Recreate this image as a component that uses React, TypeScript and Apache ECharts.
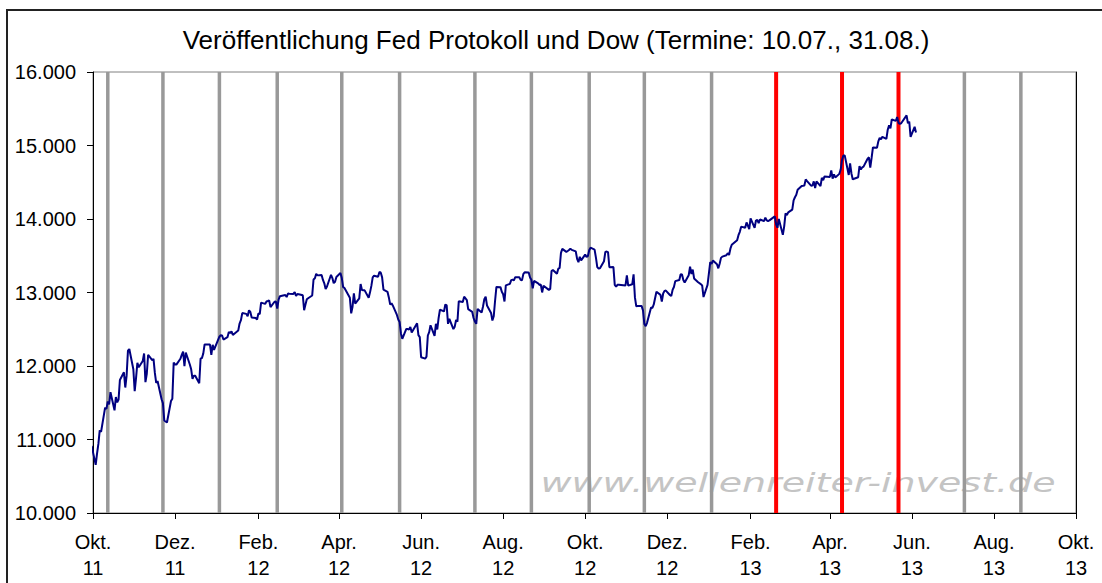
import React, { useEffect, useRef } from "react";
import * as echarts from "echarts";

const TITLE = "Veröffentlichung Fed Protokoll und Dow (Termine: 10.07., 31.08.)";
const WATERMARK = "www.wellenreiter-invest.de";

const xMin = "2011-10-01";
const xMax = "2013-10-01";
const tickDates = [
  "2011-10-01", "2011-12-01", "2012-02-01", "2012-04-01", "2012-06-01", "2012-08-01", "2012-10-01",
  "2012-12-01", "2013-02-01", "2013-04-01", "2013-06-01", "2013-08-01", "2013-10-01",
];
const tickLabels = [
  "Okt.\n11", "Dez.\n11", "Feb.\n12", "Apr.\n12", "Jun.\n12", "Aug.\n12", "Okt.\n12",
  "Dez.\n12", "Feb.\n13", "Apr.\n13", "Jun.\n13", "Aug.\n13", "Okt.\n13",
];
const yMin = 10000;
const yMax = 16000;
const yStep = 1000;

// Fed minutes release dates
const grayDates = [
  "2011-10-12", "2011-11-22", "2012-01-03", "2012-02-15", "2012-04-03", "2012-05-16", "2012-07-11",
  "2012-08-22", "2012-10-04", "2012-11-14", "2013-01-03", "2013-07-10", "2013-08-21",
];
const redDates = ["2013-02-20", "2013-04-10", "2013-05-22"];

// Dow closes, [day, close] per month
const dow2011_09 = [[30, 10913]];
const dow2011_10 = [
  [3, 10655], [4, 10809], [5, 10940], [6, 11123], [7, 11103], [10, 11433], [11, 11416], [12, 11519],
  [13, 11478], [14, 11644], [17, 11397], [18, 11577], [19, 11505], [20, 11542], [21, 11809], [24, 11914],
  [25, 11707], [26, 11869], [27, 12209], [28, 12231], [31, 11955],
];
const dow2011_11 = [
  [1, 11658], [2, 11836], [3, 12044], [4, 11983], [7, 12069], [8, 12170], [9, 11781], [10, 11894],
  [11, 12153], [14, 12079], [15, 12096], [16, 11906], [17, 11770], [18, 11796], [21, 11548], [22, 11494],
  [23, 11258], [25, 11231], [28, 11524], [29, 11556], [30, 12046],
];
const dow2011_12 = [
  [1, 12021], [2, 12019], [5, 12098], [6, 12151], [7, 12197], [8, 11997], [9, 12184], [12, 12021],
  [13, 11955], [14, 11824], [15, 11869], [16, 11866], [19, 11766], [20, 12103], [21, 12107], [22, 12169],
  [23, 12294], [27, 12291], [28, 12151], [29, 12288], [30, 12218],
];
const dow2012_01 = [
  [3, 12398], [4, 12418], [5, 12415], [6, 12360], [9, 12392], [10, 12462], [11, 12449], [12, 12471],
  [13, 12422], [17, 12482], [18, 12578], [19, 12623], [20, 12720], [23, 12709], [24, 12675], [25, 12758],
  [26, 12735], [27, 12660], [30, 12653], [31, 12633],
];
const dow2012_02 = [
  [1, 12716], [2, 12706], [3, 12862], [6, 12845], [7, 12878], [8, 12884], [9, 12891], [10, 12801],
  [13, 12874], [14, 12878], [15, 12781], [16, 12904], [17, 12950], [21, 12966], [22, 12938], [23, 12985],
  [24, 12983], [27, 12981], [28, 13005], [29, 12952],
];
const dow2012_03 = [
  [1, 12980], [2, 12977], [5, 12963], [6, 12759], [7, 12837], [8, 12907], [9, 12922], [12, 12959],
  [13, 13177], [14, 13194], [15, 13253], [16, 13233], [19, 13239], [20, 13171], [21, 13125], [22, 13046],
  [23, 13081], [26, 13241], [27, 13197], [28, 13127], [29, 13146], [30, 13212],
];
const dow2012_04 = [
  [2, 13264], [3, 13199], [4, 13075], [5, 13060], [9, 12929], [10, 12716], [11, 12806], [12, 12987],
  [13, 12850], [16, 12921], [17, 13116], [18, 13033], [19, 13030], [20, 13029], [23, 12928], [24, 13002],
  [25, 13090], [26, 13205], [27, 13228], [30, 13214],
];
const dow2012_05 = [
  [1, 13280], [2, 13269], [3, 13206], [4, 13038], [7, 13009], [8, 12933], [9, 12836], [10, 12855],
  [11, 12821], [14, 12695], [15, 12632], [16, 12599], [17, 12443], [18, 12370], [21, 12504], [22, 12502],
  [23, 12496], [24, 12530], [25, 12455], [29, 12581], [30, 12420], [31, 12393],
];
const dow2012_06 = [
  [1, 12119], [4, 12101], [5, 12127], [6, 12415], [7, 12461], [8, 12554], [11, 12411], [12, 12574],
  [13, 12497], [14, 12652], [15, 12767], [18, 12742], [19, 12837], [20, 12824], [21, 12574], [22, 12641],
  [25, 12503], [26, 12535], [27, 12627], [28, 12602], [29, 12880],
];
const dow2012_07 = [
  [2, 12871], [3, 12943], [5, 12897], [6, 12773], [9, 12736], [10, 12653], [11, 12605], [12, 12574],
  [13, 12777], [16, 12727], [17, 12806], [18, 12908], [19, 12943], [20, 12823], [23, 12722], [24, 12618],
  [25, 12677], [26, 12888], [27, 13076], [30, 13073], [31, 13009],
];
const dow2012_08 = [
  [1, 12976], [2, 12878], [3, 13096], [6, 13118], [7, 13169], [8, 13175], [9, 13165], [10, 13208],
  [13, 13207], [14, 13172], [15, 13165], [16, 13250], [17, 13276], [20, 13271], [21, 13203], [22, 13173],
  [23, 13058], [24, 13158], [27, 13124], [28, 13103], [29, 13108], [30, 13001], [31, 13091],
];
const dow2012_09 = [
  [4, 13036], [5, 13048], [6, 13292], [7, 13307], [10, 13254], [11, 13324], [12, 13333], [13, 13540],
  [14, 13594], [17, 13553], [18, 13565], [19, 13578], [20, 13597], [21, 13580], [24, 13559], [25, 13458],
  [26, 13413], [27, 13485], [28, 13437],
];
const dow2012_10 = [
  [1, 13516], [2, 13483], [3, 13495], [4, 13575], [5, 13610], [8, 13584], [9, 13474], [10, 13345],
  [11, 13326], [12, 13329], [15, 13425], [16, 13552], [17, 13557], [18, 13548], [19, 13344], [22, 13346],
  [23, 13103], [24, 13078], [25, 13104], [26, 13107], [31, 13096],
];
const dow2012_11 = [
  [1, 13233], [2, 13093], [5, 13112], [6, 13246], [7, 12933], [8, 12811], [9, 12815], [12, 12815],
  [13, 12756], [14, 12571], [15, 12543], [16, 12588], [19, 12796], [20, 12789], [21, 12837], [23, 13010],
  [26, 12968], [27, 12878], [28, 12986], [29, 13022], [30, 13026],
];
const dow2012_12 = [
  [3, 12966], [4, 12951], [5, 13035], [6, 13075], [7, 13155], [10, 13170], [11, 13249], [12, 13245],
  [13, 13171], [14, 13135], [17, 13236], [18, 13351], [19, 13252], [20, 13312], [21, 13191], [24, 13139],
  [26, 13114], [27, 13096], [28, 12938], [31, 13104],
];
const dow2013_01 = [
  [2, 13412], [3, 13391], [4, 13435], [7, 13385], [8, 13329], [9, 13390], [10, 13471], [11, 13488],
  [14, 13507], [15, 13535], [16, 13511], [17, 13596], [18, 13650], [22, 13712], [23, 13779], [24, 13825],
  [25, 13896], [28, 13882], [29, 13954], [30, 13910], [31, 13861],
];
const dow2013_02 = [
  [1, 14010], [4, 13880], [5, 13979], [6, 13987], [7, 13944], [8, 13993], [11, 13971], [12, 14019],
  [13, 13982], [14, 13973], [15, 13982], [19, 14036], [20, 13928], [21, 13881], [22, 14001], [25, 13784],
  [26, 13900], [27, 14076], [28, 14054],
];
const dow2013_03 = [
  [1, 14090], [4, 14128], [5, 14254], [6, 14296], [7, 14329], [8, 14397], [11, 14448], [12, 14451],
  [13, 14455], [14, 14539], [15, 14515], [18, 14453], [19, 14456], [20, 14512], [21, 14421], [22, 14512],
  [25, 14448], [26, 14560], [27, 14527], [28, 14579],
];
const dow2013_04 = [
  [1, 14573], [2, 14662], [3, 14550], [4, 14607], [5, 14565], [8, 14614], [9, 14673], [10, 14802],
  [11, 14865], [12, 14865], [15, 14599], [16, 14757], [17, 14619], [18, 14538], [19, 14548], [22, 14568],
  [23, 14720], [24, 14676], [25, 14701], [26, 14712], [29, 14819], [30, 14840],
];
const dow2013_05 = [
  [1, 14700], [2, 14831], [3, 14974], [6, 14969], [7, 15056], [8, 15105], [9, 15083], [10, 15118],
  [13, 15091], [14, 15215], [15, 15275], [16, 15233], [17, 15354], [20, 15335], [21, 15388], [22, 15308],
  [23, 15295], [24, 15303], [28, 15409], [29, 15303], [30, 15325], [31, 15116],
];
const dow2013_06 = [[3, 15254], [4, 15177]];

const dowMonths: [number, number, number[][]][] = [
  [2011, 9, dow2011_09], [2011, 10, dow2011_10], [2011, 11, dow2011_11], [2011, 12, dow2011_12],
  [2012, 1, dow2012_01], [2012, 2, dow2012_02], [2012, 3, dow2012_03], [2012, 4, dow2012_04],
  [2012, 5, dow2012_05], [2012, 6, dow2012_06], [2012, 7, dow2012_07], [2012, 8, dow2012_08],
  [2012, 9, dow2012_09], [2012, 10, dow2012_10], [2012, 11, dow2012_11], [2012, 12, dow2012_12],
  [2013, 1, dow2013_01], [2013, 2, dow2013_02], [2013, 3, dow2013_03], [2013, 4, dow2013_04],
  [2013, 5, dow2013_05], [2013, 6, dow2013_06],
];

const ts = (s: string) => {
  const [y, m, d] = s.split("-").map(Number);
  return Date.UTC(y, m - 1, d);
};

const FONT = "'Liberation Sans', Arial, sans-serif";

export default function App() {
  const ref = useRef<HTMLDivElement>(null);
  useEffect(() => {
    if (!ref.current) return;
    const chart = echarts.init(ref.current, null, { renderer: "svg" });

    const dowData: [number, number][] = [];
    dowMonths.forEach(([y, m, rows]) => {
      rows.forEach(([d, v]) => dowData.push([Date.UTC(y, m - 1, d), v]));
    });

    const tickTs = tickDates.map(ts);
    const labelAt = (v: number) => {
      let best = -1;
      let bestDiff = Infinity;
      tickTs.forEach((t, i) => {
        const diff = Math.abs(t - v);
        if (diff < bestDiff) {
          bestDiff = diff;
          best = i;
        }
      });
      return bestDiff < 86400000 ? tickLabels[best] : "";
    };

    const vLine = (d: string, color: string, width: number) => ({
      type: "line",
      data: [
        [ts(d), yMin],
        [ts(d), yMax],
      ],
      showSymbol: false,
      silent: true,
      z: 2,
      lineStyle: { color, width },
    });

    const fmtY = (v: number) => String(v).replace(/\B(?=(\d{3})+(?!\d))/g, ".");

    chart.setOption({
      animation: false,
      backgroundColor: "#ffffff",
      grid: {
        left: 93,
        top: 72,
        right: 26,
        bottom: 70,
        show: true,
        borderColor: "#808080",
        borderWidth: 1,
        containLabel: false,
      },
      xAxis: {
        type: "value",
        min: ts(xMin),
        max: ts(xMax),
        axisLine: { show: true, lineStyle: { color: "#000", width: 1 } },
        axisTick: { show: true, length: 6, customValues: tickTs, lineStyle: { color: "#000" } },
        axisLabel: {
          customValues: tickTs,
          formatter: (v: number) => labelAt(v),
          color: "#000",
          fontSize: 20,
          lineHeight: 26,
          margin: 16,
          fontFamily: FONT,
          showMinLabel: true,
          showMaxLabel: true,
          hideOverlap: false,
        },
        splitLine: { show: false },
      },
      yAxis: [
        {
          type: "value",
          min: yMin,
          max: yMax,
          interval: yStep,
          axisLine: { show: true, lineStyle: { color: "#000", width: 1 } },
          axisTick: { show: true, length: 6, lineStyle: { color: "#000" } },
          axisLabel: { color: "#000", fontSize: 20, margin: 17, fontFamily: FONT, formatter: fmtY },
          splitLine: { show: false },
        },
        {
          type: "value",
          position: "right",
          min: yMin,
          max: yMax,
          interval: yStep,
          axisLine: { show: true, lineStyle: { color: "#000", width: 1 } },
          axisTick: { show: false },
          axisLabel: { show: false },
          splitLine: { show: false },
        },
      ],
      graphic: [
        {
          type: "rect",
          z: 0,
          shape: { x: 7, y: 10, width: 1200, height: 700 },
          style: { fill: "none", stroke: "#222", lineWidth: 2 },
          silent: true,
        },
        {
          type: "text",
          x: 556,
          y: 40,
          z: 10,
          style: {
            text: TITLE,
            fontSize: 26,
            fontFamily: FONT,
            fill: "#000",
            textAlign: "center",
            textVerticalAlign: "middle",
          },
        },
        {
          type: "text",
          x: 798,
          y: 483,
          z: 0,
          scaleX: 1.46,
          style: {
            text: WATERMARK,
            fontSize: 26,
            fontStyle: "italic",
            fontFamily: "'DejaVu Sans', Verdana, sans-serif",
            fill: "#c4c4c4",
            textAlign: "center",
            textVerticalAlign: "middle",
          },
        },
      ],
      series: [
        ...grayDates.map((d) => vLine(d, "#999999", 3.5)),
        ...redDates.map((d) => vLine(d, "#ff0000", 4)),
        {
          type: "line",
          name: "Dow",
          data: dowData,
          showSymbol: false,
          clip: true,
          z: 3,
          lineStyle: { color: "#000080", width: 2 },
        },
      ],
    });
    return () => chart.dispose();
  }, []);

  return (
    <div
      ref={ref}
      style={{ position: "absolute", left: 0, top: 0, width: 1102, height: 583, background: "#fff" }}
    />
  );
}
